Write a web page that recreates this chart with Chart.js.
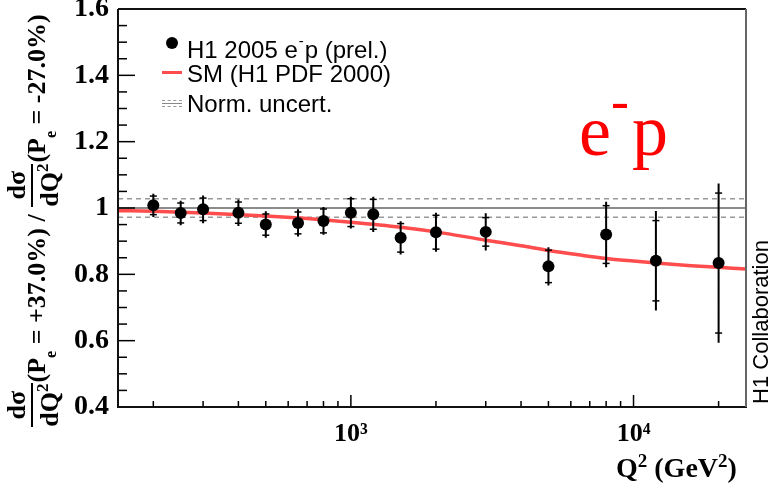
<!DOCTYPE html>
<html>
<head>
<meta charset="utf-8">
<script src="https://cdn.jsdelivr.net/npm/chart.js@4.4.0/dist/chart.umd.min.js"></script>
<style>
  body { margin: 0; background: #fff; }
  #wrap { position: relative; width: 770px; height: 483px; overflow: hidden; }
  #chart { position: absolute; left: 0; top: 0; }
  .ov { position: absolute; white-space: nowrap; }
  .leg { left: 187px; font: 24px 'Liberation Sans', Arial, sans-serif; line-height: 30px; color: #000; }
  .leg sup { font-size: 15px; position: relative; top: -3px; margin: 0 1px; }
  #ytitle {
    left: -182px; top: 186px; width: 430px; height: 70px;
    transform: rotate(-90deg);
    display: flex; align-items: center; justify-content: center;
    font: bold 26px 'Liberation Serif', 'Times New Roman', serif; color: #000;
  }
  .frac { display: inline-flex; flex-direction: column; align-items: center; line-height: 1; margin: 0 1px; }
  .frac .num { border-bottom: 2px solid #000; padding: 0 3px 1px; align-self: stretch; text-align: center; }
  .frac .den { padding-top: 1px; }
  .frac sup { font-size: 17px; }
  #ytitle .t { position: relative; top: 6px; }
  #ytitle sub { font-size: 16px; position: relative; top: 4px; }
  #xtitle { left: 616px; top: 446px; font: bold 28px 'Liberation Serif', serif; line-height: 30px; }
  #xtitle sup { font-size: 19px; }
  #h1c {
    left: 661px; top: 309px; width: 200px; height: 26px; line-height: 26px;
    transform: rotate(-90deg); text-align: center;
    font: 22px 'Liberation Sans', Arial, sans-serif; color: #000;
  }
  #ep { left: 579px; top: 95px; font: 72px 'Liberation Serif', 'Times New Roman', serif; line-height: 72px; color: #f00; }
  #ep .m { font-size: 54px; position: relative; top: -36px; margin-right: 3px; }
</style>
</head>
<body>
<div id="wrap">
  <canvas id="chart" width="770" height="483"></canvas>

  <!-- leyenda -->
  <div class="ov" style="left:166px;top:37px;width:12px;height:12px;border-radius:50%;background:#000;"></div>
  <div class="ov leg" style="top:29px;">H1 2005 e<sup>-</sup>p (prel.)</div>
  <div class="ov" style="left:162px;top:71px;width:20px;height:3px;background:#ff4d4d;"></div>
  <div class="ov leg" style="top:59px;">SM (H1 PDF 2000)</div>
  <div class="ov" style="left:162px;top:100px;width:20px;height:5px;border-top:1.5px dashed #999;border-bottom:1.5px dashed #999;"></div>
  <div class="ov" style="left:162px;top:103px;width:20px;height:1px;background:#888;"></div>
  <div class="ov leg" style="top:89px;">Norm. uncert.</div>

  <div class="ov" id="ytitle">
    <span class="frac"><span class="num">dσ</span><span class="den">dQ<sup>2</sup></span></span>
    <span class="t">(P<sub>e</sub> = +37.0%) /&nbsp;</span>
    <span class="frac"><span class="num">dσ</span><span class="den">dQ<sup>2</sup></span></span>
    <span class="t">(P<sub>e</sub> = -27.0%)</span>
  </div>
  <div class="ov" id="xtitle">Q<sup>2</sup> (GeV<sup>2</sup>)</div>
  <div class="ov" id="h1c">H1 Collaboration</div>
  <div class="ov" id="ep">e<span class="m">-</span>p</div>
</div>

<script>
// Datos H1 2005 e-p (prel.)
const q2 = [200, 250, 300, 400, 500, 650, 800, 1000, 1200, 1500, 2000, 3000, 5000, 8000, 12000, 20000];
const ratio = [1.008, 0.985, 0.996, 0.986, 0.950, 0.955, 0.961, 0.986, 0.981, 0.910, 0.927, 0.928, 0.824, 0.920, 0.841, 0.834];
const errTot = [0.035, 0.037, 0.042, 0.040, 0.040, 0.041, 0.042, 0.048, 0.053, 0.050, 0.059, 0.056, 0.058, 0.099, 0.150, 0.240];
const errStat = [0.028, 0.030, 0.034, 0.032, 0.032, 0.033, 0.036, 0.042, 0.045, 0.043, 0.051, 0.043, 0.049, 0.087, 0.121, 0.211];

// Curva SM (H1 PDF 2000)
const smQ2 = [150, 200, 300, 500, 700, 1000, 1500, 2000, 3000, 4000, 5000, 6500, 8000, 10000, 12000, 16000, 20000, 25000];
const smRatio = [0.992, 0.990, 0.985, 0.976, 0.968, 0.957, 0.942, 0.928, 0.903, 0.886, 0.872, 0.858, 0.848, 0.840, 0.834, 0.826, 0.821, 0.816];

// Incertidumbre de normalización
const normCenter = 1.0;
const normUp = 1.028;
const normDown = 0.972;

// Ejes
const xRange = [150, 25000];
const yRange = [0.4, 1.6];
const xTickValues = [1000, 10000];
const xTickLabels = ['10³', '10⁴'];

// Barras de error: segmentos separados por null
const errBars = [];
const statTicks = [];
q2.forEach((q, i) => {
    errBars.push({ x: q, y: ratio[i] - errTot[i] }, { x: q, y: ratio[i] + errTot[i] }, { x: q, y: null });
    statTicks.push({ x: q, y: ratio[i] - errStat[i] }, { x: q, y: ratio[i] + errStat[i] });
});

const hline = v => [{ x: xRange[0], y: v }, { x: xRange[1], y: v }];

// Marcas hacia dentro y marco estilo ROOT
const frameTicks = {
    id: 'frameTicks',
    afterDatasetsDraw(chart) {
        const { ctx, chartArea: a, scales: { x, y } } = chart;
        ctx.save();
        ctx.strokeStyle = '#000';
        ctx.lineWidth = 1.5;
        const seg = (x1, y1, x2, y2) => { ctx.beginPath(); ctx.moveTo(x1, y1); ctx.lineTo(x2, y2); ctx.stroke(); };
        for (let k = 0; k <= 24; k++) {
            const py = y.getPixelForValue(yRange[0] + k * 0.05);
            seg(a.left, py, a.left + (k % 4 === 0 ? 17 : 9), py);
        }
        for (let d = 2; d <= 4; d++) {
            for (let m = 1; m <= 9; m++) {
                const v = m * Math.pow(10, d);
                if (v <= xRange[0] || v >= xRange[1]) continue;
                const px = x.getPixelForValue(v);
                seg(px, a.bottom, px, a.bottom - (m === 1 ? 12 : 6));
            }
        }
        ctx.lineWidth = 2;
        ctx.strokeStyle = '#111';
        seg(a.left, a.top, a.left, a.bottom + 1);
        seg(a.left - 1, a.bottom, a.right + 1, a.bottom);
        seg(a.left, a.top, a.right, a.top);
        ctx.strokeStyle = '#666';
        seg(a.right, a.top, a.right, a.bottom);
        ctx.restore();
    }
};

const xTickFont = { family: 'Liberation Serif', size: 26, weight: 'bold' };
const yTickFont = { family: 'Liberation Serif', size: 28, weight: 'bold' };

new Chart(document.getElementById('chart'), {
    type: 'scatter',
    data: {
        datasets: [
            { type: 'line', data: hline(normUp), borderColor: '#999', borderWidth: 1.5, borderDash: [5, 4], pointRadius: 0, order: 6 },
            { type: 'line', data: hline(normDown), borderColor: '#999', borderWidth: 1.5, borderDash: [5, 4], pointRadius: 0, order: 6 },
            { type: 'line', data: hline(normCenter), borderColor: '#666', borderWidth: 1.5, pointRadius: 0, order: 5 },
            {
                type: 'line',
                data: smQ2.map((q, i) => ({ x: q, y: smRatio[i] })),
                borderColor: '#ff4d4d', borderWidth: 3.5, pointRadius: 0,
                cubicInterpolationMode: 'monotone', order: 4
            },
            { type: 'line', data: errBars, borderColor: '#000', borderWidth: 2, pointRadius: 0, spanGaps: false, order: 3 },
            { data: statTicks, pointStyle: 'line', pointRadius: 3.5, borderColor: '#000', borderWidth: 1.5, order: 2 },
            { data: q2.map((q, i) => ({ x: q, y: ratio[i] })), pointRadius: 6, backgroundColor: '#000', borderColor: '#000', borderWidth: 0, order: 1 }
        ]
    },
    options: {
        responsive: false,
        animation: false,
        devicePixelRatio: 1,
        layout: { padding: { left: 0, right: 24, top: 9, bottom: 0 } },
        plugins: { legend: { display: false }, tooltip: { enabled: false } },
        scales: {
            x: {
                type: 'logarithmic',
                min: xRange[0],
                max: xRange[1],
                grid: { display: false, drawTicks: false },
                border: { display: false },
                afterBuildTicks: s => { s.ticks = xTickValues.map(v => ({ value: v })); },
                ticks: {
                    autoSkip: false, maxRotation: 0, padding: 12, color: '#000', font: xTickFont,
                    callback: v => xTickLabels[xTickValues.indexOf(v)]
                },
                afterFit: s => { s.height = 76; s.paddingLeft = 0; s.paddingRight = 0; }
            },
            y: {
                min: yRange[0],
                max: yRange[1],
                grid: { display: false, drawTicks: false },
                border: { display: false },
                ticks: {
                    stepSize: 0.2, padding: 9, color: '#000', font: yTickFont,
                    callback: v => Math.abs(v - 1) < 1e-9 ? '1' : v.toFixed(1)
                },
                afterFit: s => { s.width = 118; s.paddingTop = 0; s.paddingBottom = 0; }
            }
        }
    },
    plugins: [frameTicks]
});
</script>
</body>
</html>
